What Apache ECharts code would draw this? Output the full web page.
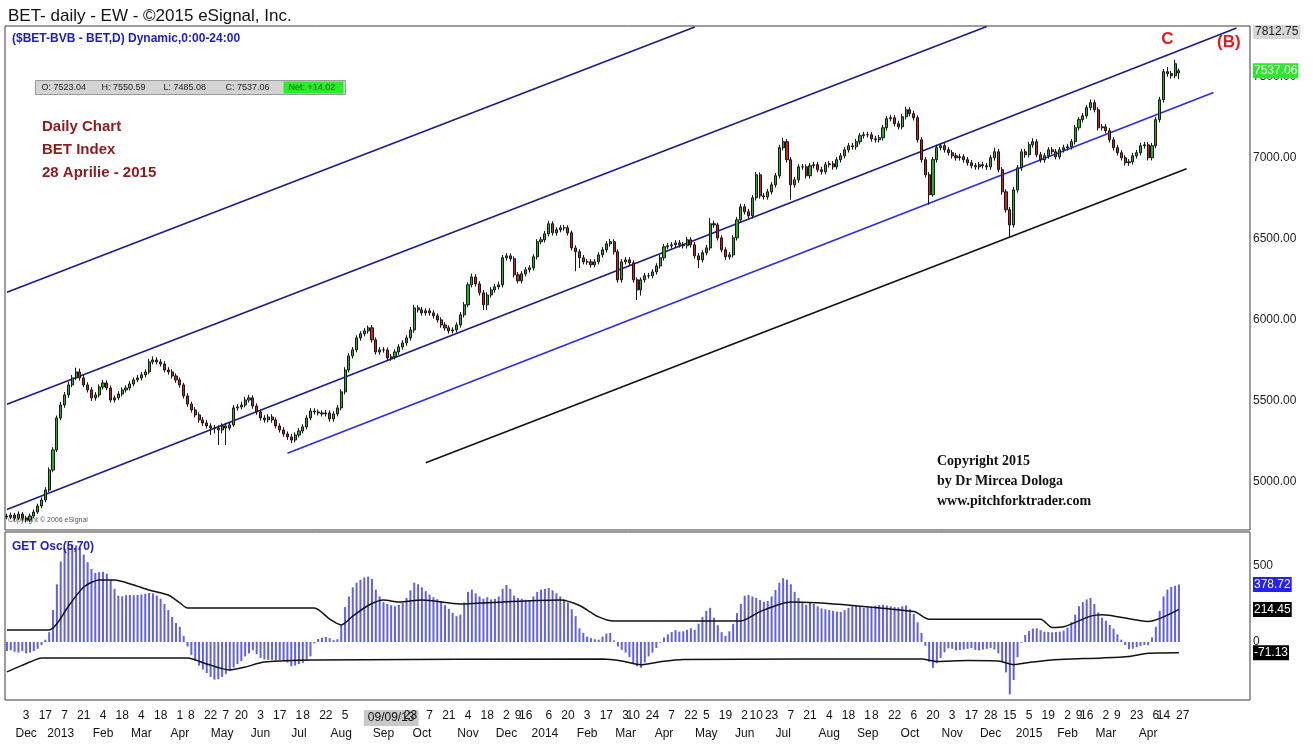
<!DOCTYPE html>
<html><head><meta charset="utf-8">
<script src="https://cdn.jsdelivr.net/npm/echarts@6/dist/echarts.min.js"></script>
<style>html,body{margin:0;padding:0;background:#fff}#c{width:1313px;height:744px}</style>
</head><body><div id="c"></div>
<script>
// ---------- calendar / axis ----------
const startDate = '2012-11-19';
const bvbHolidays = ['2012-11-30','2012-12-25','2012-12-26','2013-01-01','2013-01-02','2013-05-01','2013-05-03','2013-05-06','2013-06-24','2013-08-15','2013-12-25','2013-12-26','2014-01-01','2014-01-02','2014-04-21','2014-05-01','2014-06-09','2014-08-15','2014-12-01','2014-12-25','2014-12-26','2015-01-01','2015-01-02','2015-04-13','2015-05-01','2015-06-01'];
const daysPerBar = 2;
const axisSlots = 324;
const cursorDate = '2013-09-09';
const tickDates = ['2012-12-03','2012-12-17','2013-01-07','2013-01-21','2013-02-04','2013-02-18','2013-03-04','2013-03-18','2013-04-01','2013-04-08','2013-04-22','2013-05-07','2013-05-20','2013-06-03','2013-06-17','2013-07-01','2013-07-08','2013-07-22','2013-08-05','2013-09-09','2013-09-23','2013-10-07','2013-10-21','2013-11-04','2013-11-18','2013-12-02','2013-12-09','2013-12-16','2014-01-06','2014-01-20','2014-02-03','2014-02-17','2014-03-03','2014-03-10','2014-03-24','2014-04-07','2014-04-22','2014-05-05','2014-05-19','2014-06-02','2014-06-10','2014-06-23','2014-07-07','2014-07-21','2014-08-04','2014-08-18','2014-09-01','2014-09-08','2014-09-22','2014-10-06','2014-10-20','2014-11-03','2014-11-17','2014-11-28','2014-12-15','2015-01-05','2015-01-19','2015-02-02','2015-02-09','2015-02-16','2015-03-02','2015-03-09','2015-03-23','2015-04-06','2015-04-14','2015-04-27'];
const monthTicks = [['2012-12','Dec'],['2013-01','2013'],['2013-02','Feb'],['2013-03','Mar'],['2013-04','Apr'],['2013-05','May'],['2013-06','Jun'],['2013-07','Jul'],['2013-08','Aug'],['2013-09','Sep'],['2013-10','Oct'],['2013-11','Nov'],['2013-12','Dec'],['2014-01','2014'],['2014-02','Feb'],['2014-03','Mar'],['2014-04','Apr'],['2014-05','May'],['2014-06','Jun'],['2014-07','Jul'],['2014-08','Aug'],['2014-09','Sep'],['2014-10','Oct'],['2014-11','Nov'],['2014-12','Dec'],['2015-01','2015'],['2015-02','Feb'],['2015-03','Mar'],['2015-04','Apr']];

// ---------- price (one candle per 2 sessions) ----------
const open = [
4790,4784,4796,4778,4802,4778,4765,4790,4815,4852,
4889,4951,5074,5198,5395,5475,5537,5599,5642,5679,
5642,5599,5568,5519,5537,5586,5611,5580,5506,5519,
5543,5568,5580,5605,5630,5642,5661,5679,5741,5753,
5741,5728,5691,5679,5654,5630,5599,5531,5481,5444,
5414,5383,5364,5346,5333,5333,5321,5346,5333,5352,
5457,5463,5475,5506,5519,5469,5432,5395,5383,5401,
5383,5346,5321,5296,5278,5259,5290,5315,5340,5395,
5438,5432,5426,5420,5426,5389,5420,5457,5556,5691,
5778,5815,5889,5914,5932,5951,5877,5802,5815,5815,
5765,5772,5802,5833,5858,5889,5938,6074,6062,6043,
6056,6043,6025,6000,5969,5951,5932,5938,5969,6031,
6093,6216,6265,6222,6167,6093,6154,6185,6204,6216,
6383,6395,6377,6278,6241,6284,6309,6321,6389,6482,
6494,6531,6593,6537,6556,6568,6568,6537,6444,6420,
6383,6358,6358,6340,6358,6401,6432,6469,6482,6420,
6247,6358,6370,6352,6247,6185,6247,6272,6272,6296,
6333,6383,6451,6457,6463,6475,6463,6457,6494,6463,
6395,6370,6414,6444,6593,6586,6506,6432,6389,6401,
6506,6617,6698,6667,6642,6753,6895,6765,6759,6790,
6833,6889,7062,7099,6988,6833,6864,6944,6944,6889,
6951,6957,6926,6914,6957,6963,6944,6988,7012,7049,
7074,7068,7099,7136,7142,7142,7117,7111,7123,7185,
7241,7247,7210,7191,7253,7296,7272,7247,7111,6988,
6895,6772,6988,7062,7074,7049,7031,7012,7000,7006,
6988,6969,6951,6944,6957,6951,6944,7000,7037,6926,
6790,6679,6586,6802,6938,7037,7019,7080,7099,7019,
6988,7012,7049,7037,7006,7049,7062,7068,7099,7185,
7235,7259,7309,7340,7296,7185,7191,7167,7111,7062,
7031,7000,6969,6975,7012,7031,7074,7080,7000,7074,
7235,7358,7531,7519,7506,7523.04];
const close = [
4784,4796,4778,4802,4778,4765,4790,4815,4852,4889,
4951,5074,5198,5395,5475,5537,5599,5642,5679,5642,
5599,5568,5519,5537,5586,5611,5580,5506,5519,5543,
5568,5580,5605,5630,5642,5661,5679,5741,5753,5741,
5728,5691,5679,5654,5630,5599,5531,5481,5444,5414,
5383,5364,5346,5333,5333,5321,5346,5333,5352,5457,
5463,5475,5506,5519,5469,5432,5395,5383,5401,5383,
5346,5321,5296,5278,5259,5290,5315,5340,5395,5438,
5432,5426,5420,5426,5389,5420,5457,5556,5691,5778,
5815,5889,5914,5932,5951,5877,5802,5815,5815,5765,
5772,5802,5833,5858,5889,5938,6074,6062,6043,6056,
6043,6025,6000,5969,5951,5932,5938,5969,6031,6093,
6216,6265,6222,6167,6093,6154,6185,6204,6216,6383,
6395,6377,6278,6241,6284,6309,6321,6389,6482,6494,
6531,6593,6537,6556,6568,6568,6537,6444,6420,6383,
6358,6358,6340,6358,6401,6432,6469,6482,6420,6247,
6358,6370,6352,6247,6185,6247,6272,6272,6296,6333,
6383,6451,6457,6463,6475,6463,6457,6494,6463,6395,
6370,6414,6444,6593,6586,6506,6432,6389,6401,6506,
6617,6698,6667,6642,6753,6895,6765,6759,6790,6833,
6889,7062,7099,6988,6833,6864,6944,6944,6889,6951,
6957,6926,6914,6957,6963,6944,6988,7012,7049,7074,
7068,7099,7136,7142,7142,7117,7111,7123,7185,7241,
7247,7210,7191,7253,7296,7272,7247,7111,6988,6895,
6772,6988,7062,7074,7049,7031,7012,7000,7006,6988,
6969,6951,6944,6957,6951,6944,7000,7037,6926,6790,
6679,6586,6802,6938,7037,7019,7080,7099,7019,6988,
7012,7049,7037,7006,7049,7062,7068,7099,7185,7235,
7259,7309,7340,7296,7185,7191,7167,7111,7062,7031,
7000,6969,6975,7012,7031,7074,7080,7000,7074,7235,
7358,7531,7519,7506,7580,7537.06];
const low = [
4770,4770,4762,4765,4762,4750,4752,4778,4803,4838,
4875,4938,5060,5185,5380,5458,5520,5585,5628,5625,
5585,5552,5500,5502,5522,5570,5565,5490,5490,5505,
5528,5552,5565,5590,5615,5626,5645,5665,5726,5725,
5712,5676,5662,5638,5612,5582,5515,5464,5428,5398,
5366,5346,5330,5290,5300,5228,5300,5228,5318,5340,
5440,5448,5460,5490,5452,5415,5378,5366,5368,5366,
5330,5305,5280,5260,5240,5245,5275,5300,5325,5380,
5416,5410,5404,5404,5372,5372,5405,5442,5540,5676,
5762,5800,5872,5898,5916,5860,5786,5786,5798,5748,
5748,5756,5785,5816,5840,5872,5920,6045,6026,6026,
6026,6008,5984,5952,5934,5915,5916,5922,5952,6015,
6078,6200,6205,6150,6060,6060,6138,6168,6188,6200,
6366,6360,6262,6225,6225,6268,6292,6305,6372,6466,
6478,6515,6520,6520,6540,6550,6520,6428,6300,6320,
6342,6340,6322,6324,6342,6385,6415,6452,6404,6230,
6230,6342,6335,6230,6123,6150,6230,6255,6256,6280,
6316,6366,6435,6440,6446,6446,6440,6440,6446,6378,
6320,6354,6398,6428,6568,6490,6416,6370,6372,6385,
6490,6600,6650,6625,6626,6736,6748,6742,6742,6774,
6816,6872,7045,6970,6741,6815,6846,6926,6872,6872,
6934,6910,6896,6898,6940,6926,6928,6970,6996,7032,
7050,7050,7082,7118,7125,7100,7094,7094,7106,7168,
7224,7193,7174,7175,7236,7255,7230,7094,6970,6878,
6710,6760,6970,7045,7032,7014,6995,6982,6982,6970,
6952,6934,6926,6926,6934,6926,6926,6982,6910,6772,
6662,6506,6570,6785,6920,7000,7002,7062,7002,6970,
6970,6995,7020,6990,6990,7032,7045,7050,7082,7168,
7218,7242,7292,7280,7168,7168,7150,7094,7045,7014,
6984,6952,6950,6958,6995,7014,7056,6984,6984,7058,
7218,7340,7500,7488,7490,7485.08];
const high = [
4805,4812,4810,4818,4815,4792,4806,4830,4866,4905,
4968,5090,5215,5410,5495,5555,5618,5660,5705,5700,
5660,5615,5585,5555,5602,5630,5628,5595,5535,5560,
5583,5596,5622,5645,5660,5678,5696,5760,5775,5770,
5758,5745,5708,5695,5670,5645,5612,5548,5496,5462,
5430,5400,5382,5362,5352,5350,5362,5365,5370,5475,
5480,5495,5525,5538,5535,5485,5448,5412,5418,5418,
5398,5362,5338,5312,5295,5306,5332,5356,5412,5456,
5455,5448,5442,5443,5442,5436,5474,5572,5708,5795,
5832,5905,5930,5950,5965,5968,5892,5832,5832,5830,
5790,5818,5850,5875,5905,5956,6093,6090,6080,6072,
6072,6060,6040,6016,5986,5966,5954,5985,6048,6110,
6232,6285,6282,6238,6184,6170,6202,6222,6235,6400,
6412,6410,6392,6295,6300,6326,6338,6405,6498,6512,
6548,6612,6608,6572,6585,6586,6584,6552,6460,6436,
6400,6375,6375,6375,6418,6450,6486,6500,6498,6436,
6375,6388,6386,6368,6262,6262,6290,6290,6312,6350,
6400,6468,6475,6480,6492,6492,6480,6512,6510,6480,
6412,6430,6462,6630,6612,6600,6522,6448,6418,6522,
6635,6716,6715,6685,6770,6912,6910,6782,6808,6850,
6906,7080,7123,7115,7005,6882,6962,6962,6960,6968,
6975,6974,6944,6974,6980,6980,7005,7030,7066,7092,
7092,7116,7152,7160,7160,7158,7135,7140,7202,7258,
7265,7264,7228,7270,7315,7312,7290,7262,7128,7005,
6912,7005,7080,7092,7090,7066,7048,7030,7024,7022,
7005,6986,6968,6974,6975,6968,7018,7062,7055,6942,
6806,6696,6820,6955,7055,7055,7098,7120,7116,7036,
7030,7066,7066,7054,7066,7080,7086,7116,7202,7252,
7276,7326,7360,7358,7312,7208,7208,7184,7128,7080,
7048,7016,6992,7030,7048,7092,7098,7098,7092,7252,
7376,7548,7560,7535,7605,7550.59];
const netChange = 14.02;

// ---------- GET oscillator (5,70) and its bands ----------
const osc = [
-60,-55,-65,-70,-60,-75,-70,-60,-45,-20,
15,65,210,380,530,615,635,640,636,620,
575,525,480,455,460,462,450,410,350,305,
300,308,310,308,310,312,318,322,320,305,
285,250,210,165,125,100,40,-30,-85,-125,
-155,-182,-205,-230,-248,-245,-230,-210,-190,-168,
-145,-125,-95,-75,-55,-80,-105,-115,-118,-118,
-120,-118,-125,-135,-160,-155,-145,-138,-118,-95,
-10,20,28,33,25,12,18,110,230,300,
360,390,410,425,430,415,345,300,262,250,
242,235,245,258,290,340,390,380,360,335,
312,295,282,270,243,218,192,170,180,260,
330,345,320,300,285,295,280,285,300,350,
375,350,305,290,285,278,276,300,330,345,
350,355,340,320,300,280,260,215,170,90,
60,35,25,18,15,35,55,60,10,-30,
-52,-70,-100,-140,-160,-170,-135,-95,-70,-40,
-5,30,50,65,78,68,70,80,90,80,
120,165,205,225,160,110,65,40,70,120,
190,250,305,310,300,290,276,265,270,300,
342,390,420,410,380,330,290,262,245,260,
250,235,222,215,210,205,200,198,210,224,
235,240,232,225,228,232,238,243,245,240,
235,230,228,235,240,215,185,130,60,-25,
-130,-170,-140,-105,-68,-42,-45,-55,-53,-50,
-45,-40,-52,-56,-50,-45,-40,-50,-75,-130,
-200,-345,-250,-100,-5,46,72,88,90,78,
68,66,64,66,68,75,95,130,180,235,
262,280,290,250,195,160,140,112,88,50,
15,-20,-48,-45,-35,-26,-20,-22,30,100,
205,300,345,362,370,378.72];
// [bar number, value]
const upperBand = [[0,79],[11,79],[13,120],[16,235],[20,362],[24,408],[28,408],[33,375],[37,342],[42,309],[45,257],[47,224],[80,224],[84,150],[87,112],[90,170],[94,240],[98,276],[102,263],[108,276],[118,250],[123,256],[144,276],[149,240],[154,165],[158,138],[191,138],[196,200],[204,263],[236,200],[240,150],[269,150],[272,95],[275,100],[282,170],[285,180],[297,135],[305,214.45]];
const lowerBand = [[0,-197],[3,-164],[6,-132],[9,-105],[47,-105],[52,-145],[58,-184],[62,-165],[67,-132],[80,-118],[155,-112],[160,-125],[165,-150],[170,-130],[176,-115],[238,-112],[242,-128],[250,-122],[258,-125],[262,-150],[266,-135],[272,-118],[285,-105],[292,-95],[297,-75],[305,-71.13]];

// ---------- drawn channel lines: [bar, price] -> [bar, price] ----------
const channelLines = [
  {name:'A', from:[0,6171], to:[179,7806]},
  {name:'B', from:[0,5480], to:[255,7809]},
  {name:'C', from:[0,4831], to:[320,7800]},
  {name:'D', from:[73,5178], to:[314,7402]},
  {name:'E', from:[109,5119], to:[307,6932]}
];
const waveLabels = [{text:'C', at:[302,7728]},{text:'(B)', at:[318,7710]}];

const priceMin = 4704, priceMax = 7812.75;
const oscMin = -382, oscMax = 724;

// ---------- build ----------
const categories = [];
(function(){
  const d = new Date(startDate + 'T00:00:00Z'); let n = 0;
  while (categories.length < axisSlots) {
    const wd = d.getUTCDay(); const s = d.toISOString().slice(0,10);
    if (wd !== 0 && wd !== 6 && bvbHolidays.indexOf(s) < 0) { if (n % daysPerBar === 0) categories.push(s); n++; }
    d.setUTCDate(d.getUTCDate() + 1);
  }
})();
const dayLabelOf = {};
tickDates.forEach(t => { const i = categories.findIndex(c => c >= t); if (i >= 0 && !(categories[i] in dayLabelOf)) dayLabelOf[categories[i]] = t; });
const monthLabelOf = {};
monthTicks.forEach(([ym, name]) => { const i = categories.findIndex(c => c.slice(0,7) === ym); if (i >= 0) monthLabelOf[categories[i]] = name; });

const candleData = open.map((o, i) => [o, close[i], low[i], high[i]]);
const L = close.length - 1;
const F = "'Liberation Sans', Arial, sans-serif";
const lineColors = {A:'#1b1b8a', B:'#1b1b8a', C:'#1b1b8a', D:'#2b2be6', E:'#111111'};
const CLEAR = 'rgba(0,0,0,0)';

const chart = echarts.init(document.getElementById('c'), null, {renderer:'canvas'});

function tagLine(value, bg) {
  return {silent:true, symbol:'none', animation:false, lineStyle:{color:CLEAR, width:1},
    label:{show:true, position:'end', distance:3, formatter: value.toFixed(2), color:'#fff', backgroundColor:bg, padding:[2,1,1,1], fontSize:12, fontFamily:F},
    data:[{yAxis: value}]};
}

const series = [{
  type:'candlestick', xAxisIndex:0, yAxisIndex:0, data:candleData, barWidth:2.6, z:4, clip:false,
  itemStyle:{color:'#1fb31f', color0:'#d41f1f', borderColor:'#161616', borderColor0:'#161616', borderWidth:1},
  markLine: tagLine(close[L], '#2fe62f'),
  markPoint:{silent:true, animation:false, symbol:'circle', symbolSize:2, itemStyle:{color:CLEAR},
    label:{show:true, position:'inside', color:'#e21b1b', fontSize:17, fontWeight:'bold', fontFamily:F, formatter: p => p.name},
    data: waveLabels.map(w => ({name:w.text, coord:w.at}))}
}];
channelLines.forEach(l => series.push({
  type:'line', xAxisIndex:0, yAxisIndex:0, data:[l.from, l.to], symbol:'none', silent:true, z:3,
  lineStyle:{color:lineColors[l.name], width:1.6}
}));
series.push({
  type:'bar', xAxisIndex:1, yAxisIndex:1, data:osc, barWidth:2, itemStyle:{color:'#6060ea'}, clip:false,
  markLine: tagLine(osc[L], '#2323f0')
});
[upperBand, lowerBand].forEach(b => series.push({
  type:'line', xAxisIndex:1, yAxisIndex:1, data:b, symbol:'none', smooth:0.25, silent:true, z:5, clip:false,
  lineStyle:{color:'#111', width:1.5},
  markLine: tagLine(b[b.length-1][1], '#000')
}));

const info = [
  'O: ' + open[L].toFixed(2), 'H: ' + high[L].toFixed(2), 'L: ' + low[L].toFixed(2), 'C: ' + close[L].toFixed(2)
];

chart.setOption({
  animation:false,
  backgroundColor:'#ffffff',
  textStyle:{fontFamily:F},
  title:[
    {text:'BET- daily - EW - ©2015 eSignal, Inc.', left:3, top:3, textStyle:{fontFamily:F, fontSize:17, fontWeight:'normal', color:'#111'}},
    {text:'($BET-BVB - BET,D) Dynamic,0:00-24:00', left:7, top:28, textStyle:{fontFamily:F, fontSize:12, fontWeight:'bold', color:'#1c1cc8'}},
    {text:'GET Osc(5,70)', left:7, top:536, textStyle:{fontFamily:F, fontSize:12, fontWeight:'bold', color:'#1c1cc8'}}
  ],
  grid:[
    {left:5, right:63, top:26, height:504, show:true, borderColor:'#3a3a3a', borderWidth:1},
    {left:5, right:63, top:532, height:168, show:true, borderColor:'#3a3a3a', borderWidth:1}
  ],
  xAxis:[
    {type:'category', gridIndex:0, data:categories, show:false},
    {type:'category', gridIndex:1, data:categories, axisLine:{show:false}, axisTick:{show:false}, splitLine:{show:false},
      axisLabel:{interval:(i, v) => v in dayLabelOf, margin:10, fontSize:12, color:'#111',
        formatter: v => { const t = dayLabelOf[v]; if (!t) return ''; return t === cursorDate ? '{hl|' + t.slice(8) + '/' + t.slice(5,7) + '/' + t.slice(2,4) + '}' : String(+t.slice(8)); },
        rich:{hl:{backgroundColor:'#c9c9c9', padding:[2,4], fontSize:12, color:'#111'}}}},
    {type:'category', gridIndex:1, data:categories, position:'bottom', offset:18, axisLine:{show:false}, axisTick:{show:false},
      axisLabel:{interval:(i, v) => v in monthLabelOf, margin:10, fontSize:12, color:'#111', align:'center', formatter: v => monthLabelOf[v] || ''}}
  ],
  yAxis:[
    {type:'value', gridIndex:0, position:'right', min:priceMin, max:priceMax, splitNumber:6,
      axisLine:{show:false}, axisTick:{show:false}, splitLine:{show:false},
      axisLabel:{showMinLabel:false, margin:3, fontSize:12, color:'#222',
        formatter: v => v === priceMax ? '\n{mx|' + v.toFixed(2) + '}' : v.toFixed(2),
        rich:{mx:{backgroundColor:'#d6d6d6', padding:[1,2], fontSize:12, color:'#222'}}}},
    {type:'value', gridIndex:1, position:'right', min:oscMin, max:oscMax, splitNumber:2,
      axisLine:{show:false}, axisTick:{show:false}, splitLine:{show:false},
      axisLabel:{showMinLabel:false, showMaxLabel:false, margin:3, fontSize:12, color:'#222',
        formatter: v => (v === 0 || v === 500) ? String(v) : ''}}
  ],
  graphic:[
    {type:'group', left:35, top:80, children:[
      {type:'rect', shape:{x:0, y:0, width:310, height:14}, style:{fill:'#d3d3d3', stroke:'#9a9a9a', lineWidth:1}},
      {type:'rect', shape:{x:248, y:1, width:60, height:12}, style:{fill:'#27ee27'}},
      {type:'text', x:6, y:7, style:{text:info[0], font:'9px ' + F, fill:'#222', verticalAlign:'middle'}},
      {type:'text', x:66, y:7, style:{text:info[1], font:'9px ' + F, fill:'#222', verticalAlign:'middle'}},
      {type:'text', x:128, y:7, style:{text:info[2], font:'9px ' + F, fill:'#222', verticalAlign:'middle'}},
      {type:'text', x:190, y:7, style:{text:info[3], font:'9px ' + F, fill:'#222', verticalAlign:'middle'}},
      {type:'text', x:253, y:7, style:{text:'Net: +' + netChange.toFixed(2), font:'9px ' + F, fill:'#1a5a1a', verticalAlign:'middle'}}
    ]},
    {type:'text', left:42, top:119, style:{text:'Daily Chart', font:'bold 15px ' + F, fill:'#8e1b1b'}},
    {type:'text', left:42, top:142, style:{text:'BET Index', font:'bold 15px ' + F, fill:'#8e1b1b'}},
    {type:'text', left:42, top:165, style:{text:'28 Aprilie - 2015', font:'bold 15px ' + F, fill:'#8e1b1b'}},
    {type:'text', left:937, top:454, style:{text:'Copyright 2015', font:"bold 14px 'Liberation Serif', 'Times New Roman', serif", fill:'#111'}},
    {type:'text', left:937, top:474, style:{text:'by Dr Mircea Dologa', font:"bold 14px 'Liberation Serif', 'Times New Roman', serif", fill:'#111'}},
    {type:'text', left:937, top:494, style:{text:'www.pitchforktrader.com', font:"bold 14px 'Liberation Serif', 'Times New Roman', serif", fill:'#111'}},
    {type:'text', left:8, top:517, style:{text:'Copyright © 2006 eSignal', font:'7px ' + F, fill:'#555'}}
  ],
  series: series
});
</script></body></html>
